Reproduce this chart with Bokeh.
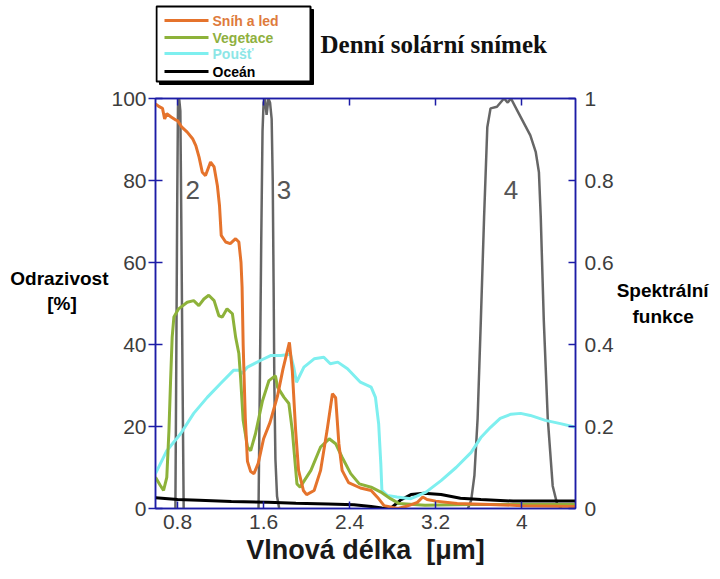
from bokeh.plotting import figure
from bokeh.layouts import column
from bokeh.models import Range1d, LinearAxis, FixedTicker, Label, BoxAnnotation, CustomJSTickFormatter
from bokeh.core.properties import value
from bokeh.embed import file_html
from bokeh.resources import INLINE

# ---------------- data ----------------
# Reflectance [%] vs wavelength [um]
snih_x = [0.595, 0.63, 0.66, 0.68, 0.70, 0.74, 0.78, 0.80, 0.84, 0.89, 0.94, 0.97, 1.00, 1.03, 1.06,
          1.107, 1.14, 1.17, 1.19, 1.206, 1.247, 1.29, 1.34, 1.37, 1.39, 1.40, 1.41, 1.43, 1.45, 1.48,
          1.51, 1.55, 1.60, 1.66, 1.73, 1.78, 1.84, 1.867, 1.898, 1.925, 1.97, 2.00, 2.07, 2.13, 2.19,
          2.24, 2.27, 2.30, 2.33, 2.39, 2.50, 2.60, 2.66, 2.72, 2.85, 2.92, 2.98, 3.03, 3.08, 3.12,
          3.20, 3.40, 3.70, 4.00, 4.50]
snih_y = [98.7, 98.0, 97.6, 95.0, 96.3, 95.5, 94.8, 94.6, 93.0, 91.8, 90.2, 88.5, 85.7, 82.0, 81.2,
          84.5, 83.3, 78.8, 73.9, 66.6, 65.0, 64.6, 65.8, 65.0, 60.0, 54.0, 40.0, 22.0, 11.5, 9.0,
          8.5, 11.0, 17.0, 21.0, 27.5, 34.0, 40.5, 33.6, 19.0, 9.3, 4.4, 3.4, 4.4, 9.3, 19.0,
          28.0, 27.0, 15.8, 9.3, 6.3, 5.0, 4.4, 2.7, 0.7, 0.0, 0.5, 1.0, 1.5, 2.8, 2.2,
          1.8, 1.2, 1.0, 0.7, 0.5]

veg_x = [0.595, 0.64, 0.67, 0.70, 0.72, 0.735, 0.75, 0.766, 0.81, 0.89, 0.95, 0.998, 1.045, 1.09,
         1.14, 1.184, 1.216, 1.26, 1.31, 1.34, 1.37, 1.386, 1.41, 1.45, 1.48, 1.525, 1.59, 1.65,
         1.71, 1.73, 1.79, 1.835, 1.867, 1.91, 1.94, 2.04, 2.13, 2.21, 2.27, 2.33, 2.41, 2.49,
         2.60, 2.69, 2.78, 2.86, 3.10, 3.50, 4.00, 4.50]
veg_y = [7.6, 5.6, 4.4, 7.6, 19.0, 31.0, 41.8, 46.7, 48.7, 50.3, 50.7, 49.5, 51.1, 52.0,
         50.7, 47.0, 46.7, 48.7, 47.5, 41.8, 37.8, 32.0, 21.5, 15.0, 14.1, 18.3, 26.3, 31.2,
         32.4, 29.6, 27.1, 25.6, 19.0, 6.0, 5.2, 9.3, 15.0, 17.0, 15.8, 12.5, 8.5, 6.0,
         5.2, 4.0, 2.4, 1.2, 0.8, 1.0, 1.0, 1.0]

pousti_x = [0.595, 0.70, 0.83, 0.95, 1.076, 1.20, 1.32, 1.375, 1.40, 1.45, 1.57, 1.665, 1.76, 1.85,
            1.88, 1.906, 1.975, 2.07, 2.16, 2.22, 2.29, 2.38, 2.50, 2.60, 2.64, 2.67, 2.69, 2.70,
            2.75, 2.84, 2.97, 3.11, 3.25, 3.39, 3.53, 3.62, 3.71, 3.80, 3.90, 3.99, 4.08, 4.22,
            4.36, 4.50]
pousti_y = [8.5, 14.1, 18.3, 23.2, 27.1, 30.5, 33.7, 33.7, 32.9, 34.5, 36.1, 37.3, 37.3, 37.6,
            34.5, 30.8, 34.5, 36.5, 36.9, 35.3, 35.7, 34.1, 30.8, 29.6, 27.1, 20.6, 10.9, 4.4,
            3.2, 2.8, 2.4, 4.0, 6.8, 10.0, 13.7, 17.3, 19.8, 22.0, 23.0, 23.2, 22.7, 21.5,
            20.7, 19.8]

ocean_x = [0.595, 0.80, 1.00, 1.30, 1.64, 1.90, 2.20, 2.44, 2.60, 2.70, 2.78, 2.87, 2.97, 3.09,
           3.25, 3.43, 3.62, 3.92, 4.20, 4.50]
ocean_y = [2.6, 2.2, 2.0, 1.7, 1.5, 1.3, 1.1, 0.9, 0.5, 0.15, 0.0, 2.0, 3.4, 3.7,
           3.4, 2.5, 2.2, 1.8, 1.8, 1.8]

# Spectral response functions of channels 2, 3, 4 (0..1)
b2_x = [0.780, 0.788, 0.797, 0.804, 0.815, 0.826, 0.835, 0.847, 0.857]
b2_y = [0.0, 0.35, 0.75, 0.98, 1.0, 0.97, 0.7, 0.3, 0.0]
b3_x = [1.553, 1.565, 1.578, 1.590, 1.600, 1.612, 1.628, 1.645, 1.660, 1.675, 1.685, 1.693,
        1.700, 1.710, 1.725, 1.745]
b3_y = [0.0, 0.3, 0.65, 0.92, 0.99, 1.0, 0.96, 1.0, 0.99, 0.95, 0.8, 0.55, 0.3, 0.12, 0.03, 0.0]
b4_x = [3.50, 3.53, 3.56, 3.59, 3.62, 3.65, 3.68, 3.71, 3.77, 3.835, 3.87, 3.90, 3.96, 4.02,
        4.08, 4.13, 4.16, 4.177, 4.205, 4.242, 4.288, 4.33, 4.37]
b4_y = [0.0, 0.02, 0.08, 0.22, 0.46, 0.71, 0.93, 0.976, 0.98, 1.0, 0.99, 1.0, 0.97, 0.94,
        0.91, 0.87, 0.82, 0.71, 0.46, 0.22, 0.055, 0.01, 0.0]

band_names = ["2", "3", "4"]
band_label_x = [0.94, 1.79, 3.90]
band_label_y = [0.776, 0.776, 0.776]

x_ticks = [0.8, 1.6, 2.4, 3.2, 4.0]
x_tick_labels = ["0.8", "1.6", "2.4", "3.2", "4"]
y_ticks = [0, 20, 40, 60, 80, 100]
y2_ticks = [0, 0.2, 0.4, 0.6, 0.8, 1.0]
y2_tick_labels = ["0", "0.2", "0.4", "0.6", "0.8", "1"]

series_names = ["Sníh a led", "Vegetace", "Poušť", "Oceán"]
series_colors = ["#E5732C", "#8DB23A", "#7EEFEF", "#000000"]
text_colors = ["#DE7B3C", "#8FB040", "#8CE6E6", "#000000"]

TICK_FONT = "Liberation Sans"
TICK_COLOR = "#3d3d3d"
BLUE = "#1C1CA6"
GRAY = "#555555"
NB = "\u00a0"

# ---------------- header (legend + title) ----------------
HEAD_H = 86
FRAME_LEFT = 155   # the column aligns this header's frame with the chart frame
head = figure(width=720, height=HEAD_H, output_backend="svg", toolbar_location=None,
              x_range=Range1d(0, 1), y_range=Range1d(0, 1),
              x_axis_location=None, y_axis_location=None,
              min_border=0)
head.grid.visible = False
head.outline_line_color = None
head.background_fill_color = "white"
head.border_fill_color = "white"


def hx(px):
    return px - FRAME_LEFT


def hy(py):
    return HEAD_H - py


def box(l, t, r, b, **kw):
    return BoxAnnotation(left=hx(l), right=hx(r), top=hy(t), bottom=hy(b),
                         left_units="screen", right_units="screen",
                         top_units="screen", bottom_units="screen", **kw)


# legend frame with a drop shadow
head.add_layout(box(159, 9, 313, 84, fill_color="black", fill_alpha=1.0,
                    line_color="black", line_alpha=1.0))
head.add_layout(box(156, 6, 310, 81, fill_color="white", fill_alpha=1.0,
                    line_color="black", line_alpha=1.0, line_width=2))

row_y = [20, 37, 53, 71]
for name, lc, tc, ry in zip(series_names, series_colors, text_colors, row_y):
    head.add_layout(box(164, ry - 1.5, 208, ry + 1.5, fill_color=lc, fill_alpha=1.0, line_color=None))
    head.add_layout(Label(x=hx(212), y=hy(ry), x_units="screen", y_units="screen", text=name,
                          text_font=TICK_FONT, text_font_style="bold", text_font_size="14px",
                          text_color=tc, text_baseline="middle"))

head.add_layout(Label(x=hx(320), y=hy(44), x_units="screen", y_units="screen",
                      text="Denní solární snímek", text_font="Liberation Serif",
                      text_font_style="bold", text_font_size="25px", text_color="#111111",
                      text_baseline="middle"))

# ---------------- main chart ----------------
p = figure(width=720, height=579 - HEAD_H, output_backend="svg", toolbar_location=None,
           x_range=Range1d(0.595, 4.5), y_range=Range1d(0, 100),
           min_border_left=155, min_border_right=145, min_border_top=98 - HEAD_H,
           min_border_bottom=71)
p.extra_y_ranges = {"spec": Range1d(0, 1)}
p.grid.visible = False
p.outline_line_color = BLUE
p.outline_line_width = 1.5
p.background_fill_color = "white"
p.border_fill_color = "white"

xa = p.xaxis[0]
xa.ticker = FixedTicker(ticks=x_ticks)
xa.major_label_overrides = {t: l for t, l in zip(x_ticks, x_tick_labels)}
xa.minor_tick_line_color = None
xa.major_tick_in = 7
xa.major_tick_out = 0
xa.major_tick_line_color = BLUE
xa.major_tick_line_width = 1.5
xa.axis_line_color = BLUE
xa.axis_line_width = 1.5
xa.major_label_text_font = TICK_FONT
xa.major_label_text_font_size = "21px"
xa.major_label_text_color = TICK_COLOR
xa.major_label_standoff = 6
xa.axis_label = "Vlnová délka" + NB + NB + "[μm]"
xa.axis_label_text_font = TICK_FONT
xa.axis_label_text_font_style = "bold"
xa.axis_label_text_font_size = "27px"
xa.axis_label_text_color = "#1a1a1a"
xa.axis_label_standoff = 3

ya = p.yaxis[0]
ya.ticker = FixedTicker(ticks=y_ticks)
ya.minor_tick_line_color = None
ya.major_tick_in = 7
ya.major_tick_out = 7
ya.major_tick_line_color = BLUE
ya.major_tick_line_width = 1.5
ya.axis_line_color = BLUE
ya.axis_line_width = 1.5
ya.major_label_text_font = TICK_FONT
ya.major_label_text_font_size = "21px"
ya.major_label_text_color = TICK_COLOR
ya.major_label_standoff = 2
ya.axis_label = "Odrazivost\n[%]" + NB * 6 + "\n" + NB
ya.axis_label_orientation = "horizontal"
ya.axis_label_text_font = TICK_FONT
ya.axis_label_text_font_style = "bold"
ya.axis_label_text_font_size = "19px"
ya.axis_label_text_color = "#000000"
ya.axis_label_standoff = 0

ra = LinearAxis(y_range_name="spec", ticker=FixedTicker(ticks=y2_ticks))
ra.major_label_overrides = {t: l for t, l in zip(y2_ticks, y2_tick_labels)}
ra.minor_tick_line_color = None
ra.major_tick_in = 7
ra.major_tick_out = 0
ra.major_tick_line_color = BLUE
ra.major_tick_line_width = 1.5
ra.axis_line_color = BLUE
ra.axis_line_width = 1.5
ra.major_label_text_font = TICK_FONT
ra.major_label_text_font_size = "21px"
ra.major_label_text_color = TICK_COLOR
ra.major_label_standoff = 9
ra.axis_label = "Spektrální\n" + NB * 3 + "funkce"
ra.axis_label_orientation = "horizontal"
ra.axis_label_text_font = TICK_FONT
ra.axis_label_text_font_style = "bold"
ra.axis_label_text_font_size = "19px"
ra.axis_label_text_color = "#000000"
ra.axis_label_standoff = 0
p.add_layout(ra, "right")

ta = LinearAxis(ticker=FixedTicker(ticks=x_ticks), formatter=CustomJSTickFormatter(code="return ''"))
ta.minor_tick_line_color = None
ta.major_tick_in = 7
ta.major_tick_out = 0
ta.major_tick_line_color = BLUE
ta.major_tick_line_width = 1.5
ta.axis_line_color = BLUE
ta.axis_line_width = 1.5
ta.major_label_standoff = 0
ta.major_label_text_font_size = "1px"
p.add_layout(ta, "above")

# spectral response functions
for bx, by in [(b2_x, b2_y), (b3_x, b3_y), (b4_x, b4_y)]:
    p.line(bx, by, y_range_name="spec", line_color=GRAY, line_width=2.5, line_alpha=0.9)

# reflectance curves
p.line(ocean_x, ocean_y, line_color=series_colors[3], line_width=3)
p.line(pousti_x, pousti_y, line_color=series_colors[2], line_width=3)
p.line(veg_x, veg_y, line_color=series_colors[1], line_width=3)
p.line(snih_x, snih_y, line_color=series_colors[0], line_width=3)

p.text(x=band_label_x, y=band_label_y, text=band_names, y_range_name="spec",
       text_color="#555555", text_font_size="26px", text_align="center",
       text_baseline="middle", text_font=value(TICK_FONT))

layout = column(head, p, spacing=0)
open("out.html", "w").write(file_html(layout, INLINE))
